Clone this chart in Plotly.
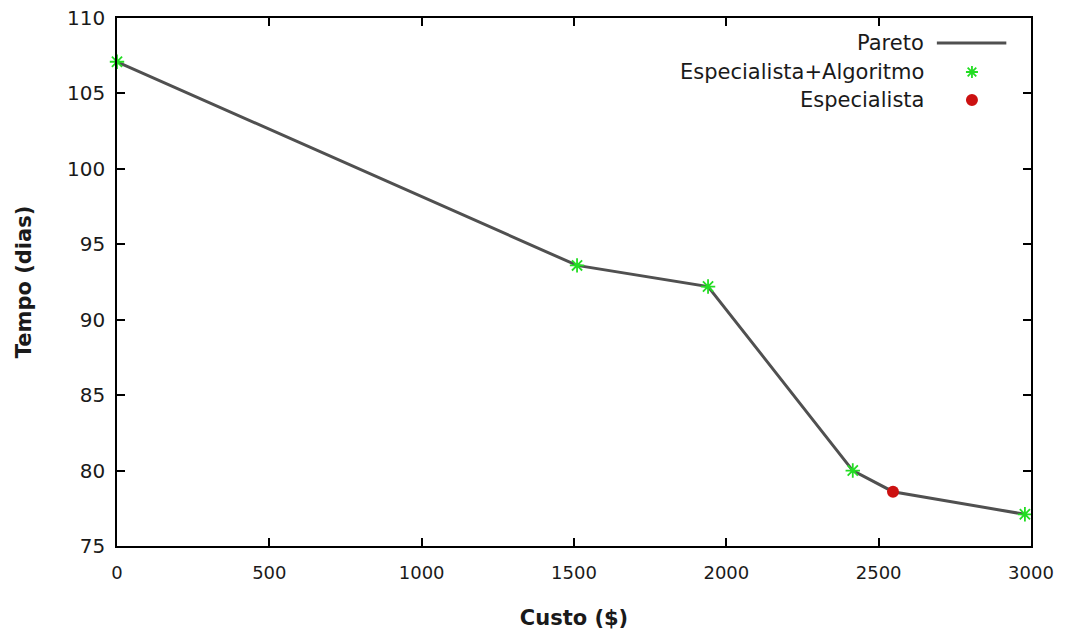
import plotly.graph_objects as go

# Pareto front: cost (USD) vs. duration (days)
custo_pareto = [0, 1510, 1940, 2415, 2547, 2980]
tempo_pareto = [107.1, 93.6, 92.2, 80.0, 78.6, 77.1]

# Solutions found by specialist + algorithm
custo_alg = [0, 1510, 1940, 2415, 2980]
tempo_alg = [107.1, 93.6, 92.2, 80.0, 77.1]

# Solution chosen by the specialist alone
custo_esp = [2547]
tempo_esp = [78.6]

x_ticks = [0, 500, 1000, 1500, 2000, 2500, 3000]
y_ticks = [75, 80, 85, 90, 95, 100, 105, 110]

legend_labels = ["Pareto", "Especialista+Algoritmo", "Especialista"]

LINE_COLOR = "#505050"
GREEN = "#22dd22"
RED = "#cc1111"
FONT = "DejaVu Sans"

fig = go.Figure()
fig.add_trace(go.Scatter(
    x=custo_pareto, y=tempo_pareto, mode="lines",
    line=dict(color=LINE_COLOR, width=3), name=legend_labels[0],
    showlegend=False, cliponaxis=False,
))
fig.add_trace(go.Scatter(
    x=custo_alg, y=tempo_alg, mode="markers",
    marker=dict(symbol="asterisk-open", size=12, color=GREEN,
                line=dict(color=GREEN, width=1.8)),
    name=legend_labels[1], showlegend=False, cliponaxis=False,
))
fig.add_trace(go.Scatter(
    x=custo_esp, y=tempo_esp, mode="markers",
    marker=dict(symbol="circle", size=12, color=RED, line=dict(width=0)),
    name=legend_labels[2], showlegend=False, cliponaxis=False,
))

# Legend in the gnuplot style: right-aligned labels followed by their keys
text_x = 0.885
key_x = 0.9354
rows_y = [0.9527, 0.8977, 0.8447]
for label, yy in zip(legend_labels, rows_y):
    fig.add_annotation(
        x=text_x, y=yy, xref="paper", yref="paper", text=label,
        showarrow=False, xanchor="right", yanchor="middle",
        font=dict(family=FONT, size=21, color="#1a1a1a"),
    )
# Pareto key: a short line
fig.add_shape(type="line", xref="paper", yref="paper",
              x0=0.897, x1=0.973, y0=rows_y[0], y1=rows_y[0],
              line=dict(color=LINE_COLOR, width=3))
# Especialista+Algoritmo key: an asterisk drawn in pixel units
ast = "M-6,0 L6,0 M0,-6 L0,6 M-4.3,-4.3 L4.3,4.3 M-4.3,4.3 L4.3,-4.3"
fig.add_shape(type="path", xref="paper", yref="paper",
              xsizemode="pixel", ysizemode="pixel",
              xanchor=key_x, yanchor=rows_y[1], path=ast,
              line=dict(color=GREEN, width=1.8))
# Especialista key: a filled circle
fig.add_shape(type="circle", xref="paper", yref="paper",
              xsizemode="pixel", ysizemode="pixel",
              xanchor=key_x, yanchor=rows_y[2],
              x0=-6, x1=6, y0=-6, y1=6,
              fillcolor=RED, line=dict(width=0))

axis_common = dict(
    showgrid=False, zeroline=False, showline=True, linecolor="#000000",
    linewidth=1.5, mirror="ticks", ticks="inside", ticklen=8,
    tickcolor="#000000", tickwidth=1.5, automargin=False,
)

fig.update_xaxes(
    range=[0, 3000], tickvals=x_ticks, ticktext=[str(v) for v in x_ticks],
    tickfont=dict(family=FONT, size=18, color="#1a1a1a"),
    ticklabelstandoff=10,
    title=dict(text="<b>Custo ($)</b>", standoff=28,
               font=dict(family=FONT, size=21, color="#1a1a1a")),
    **axis_common,
)
fig.update_yaxes(
    range=[75, 110], tickvals=y_ticks, ticktext=[str(v) for v in y_ticks],
    tickfont=dict(family=FONT, size=20, color="#1a1a1a"),
    ticklabelstandoff=6,
    title=dict(text="<b>Tempo (dias)</b>", standoff=30,
               font=dict(family=FONT, size=21, color="#1a1a1a")),
    **axis_common,
)

fig.update_layout(
    width=1067, height=631,
    margin=dict(l=117, r=36, t=18, b=85),
    plot_bgcolor="white", paper_bgcolor="white",
    showlegend=False,
)

fig.write_html("out.html")
